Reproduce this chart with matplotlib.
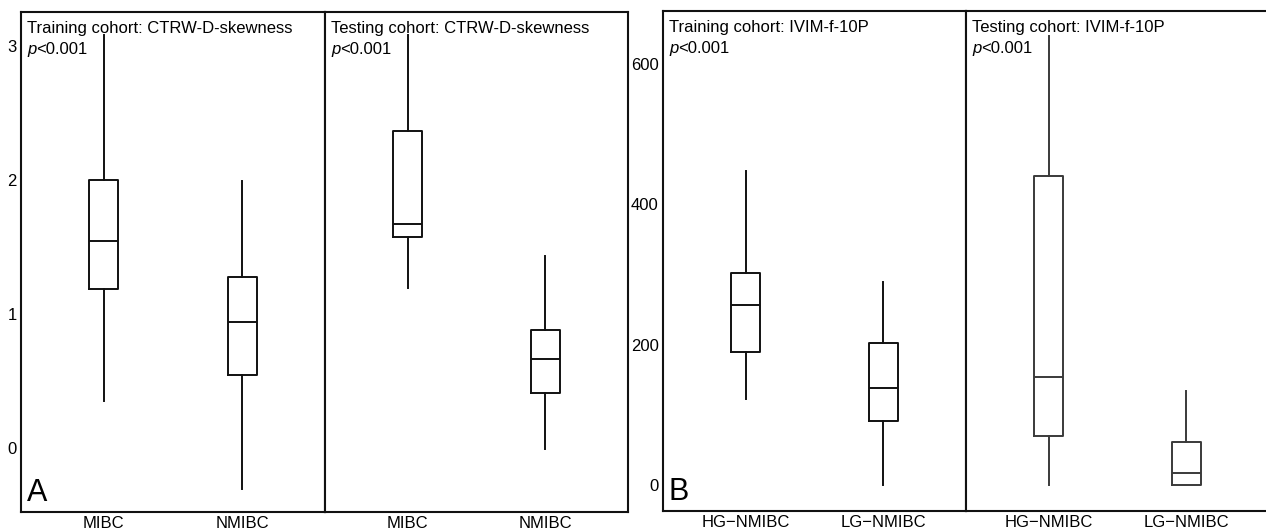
import matplotlib
matplotlib.use("Agg")
import matplotlib.pyplot as plt

plt.rcParams['font.family'] = ['Liberation Sans', 'DejaVu Sans']

# panel A: CTRW-D-skewness (whislo, q1, med, q3, whishi)
groups_a = ["MIBC", "NMIBC"]
train_a = [[0.35, 1.18, 1.545, 2.00, 3.08],
           [-0.31, 0.54, 0.94, 1.27, 1.99]]
test_a = [[1.19, 1.57, 1.67, 2.36, 3.08],
          [-0.01, 0.41, 0.66, 0.88, 1.43]]
yticks_a = [0, 1, 2, 3]

# panel B: IVIM-f-10P
groups_b = ["HG\u2212NMIBC", "LG\u2212NMIBC"]
train_b = [[122, 189, 256, 302, 448],
           [0, 91, 139, 202, 289]]
test_b = [[0, 70, 154, 440, 640],
          [0, 0, 17, 61, 134]]
yticks_b = [0, 200, 400, 600]

titles = ["Training cohort: CTRW-D-skewness", "Testing cohort: CTRW-D-skewness",
          "Training cohort: IVIM-f-10P", "Testing cohort: IVIM-f-10P"]


def stats(rows, names):
    out = []
    for r, n in zip(rows, names):
        out.append(dict(whislo=r[0], q1=r[1], med=r[2], q3=r[3], whishi=r[4],
                        fliers=[], label=n))
    return out


fig = plt.figure(figsize=(12.66, 5.32), dpi=100)

H = 532.0
W = 1266.0
# facet frames in pixels: left, right, top, bottom
boxes = [
    (21, 325, 12, 512),
    (325, 628, 12, 512),
    (663, 966, 10.7, 511),
    (966, 1269, 10.7, 511),
]
data = [train_a, test_a, train_b, test_b]
names = [groups_a, groups_a, groups_b, groups_b]
ylims = [(-0.48, 3.25), (-0.48, 3.25), (-37, 676), (-37, 676)]
colors = ["#111111", "#111111", "#111111", "#3a3a3a"]
fs = 12

axes = []
for i, (x0, x1, y0, y1) in enumerate(boxes):
    ax = fig.add_axes([x0 / W, 1 - y1 / H, (x1 - x0) / W, (y1 - y0) / H])
    c = colors[i]
    lp = dict(color=c, linewidth=1.4)
    ax.bxp(stats(data[i], names[i]), positions=[1, 2], widths=0.21,
           showfliers=False, showcaps=False,
           boxprops=lp, whiskerprops=lp, medianprops=lp)
    ax.set_xlim(0.4, 2.6)
    ax.set_ylim(*ylims[i])
    for s in ax.spines.values():
        s.set_linewidth(1.5)
        s.set_color("#111111")
    ax.tick_params(axis='x', length=0, pad=3, labelsize=fs)
    if i in (0, 2):
        ax.set_yticks(yticks_a if i == 0 else yticks_b)
        ax.tick_params(axis='y', length=0, pad=3, labelsize=fs)
    else:
        ax.set_yticks([])
    ax.text(0.02, 0.982, titles[i], transform=ax.transAxes, ha='left', va='top',
            fontsize=fs)
    pt = ax.text(0.02, 0.94, "p", transform=ax.transAxes, ha='left', va='top',
                 fontsize=fs, style='italic')
    ax.annotate("<0.001", xy=(1, 0), xycoords=pt, ha='left', va='bottom',
                fontsize=fs)
    axes.append(ax)

axes[0].text(0.018, 0.008, "A", transform=axes[0].transAxes, ha='left',
             va='bottom', fontsize=22)
axes[2].text(0.018, 0.008, "B", transform=axes[2].transAxes, ha='left',
             va='bottom', fontsize=22)

fig.savefig("out.png", dpi=100)
